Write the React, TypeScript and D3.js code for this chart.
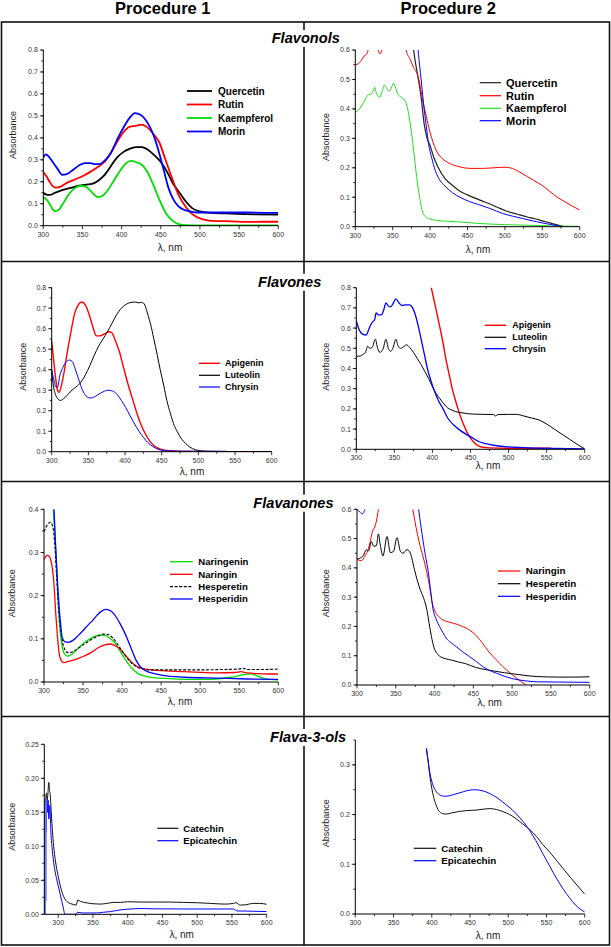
import * as d3 from "d3";

const FONT = "'Liberation Sans', Arial, Helvetica, sans-serif";

const procedures = ["Procedure 1", "Procedure 2"];
const groups = ["Flavonols", "Flavones", "Flavanones", "Flava-3-ols"];

const xTicks = [300, 350, 400, 450, 500, 550, 600];
const yTicks08 = [0, 0.1, 0.2, 0.3, 0.4, 0.5, 0.6, 0.7, 0.8];
const yTicks06 = [0, 0.1, 0.2, 0.3, 0.4, 0.5, 0.6];
const yTicks04 = [0, 0.1, 0.2, 0.3, 0.4];
const yTicks025 = [0, 0.05, 0.1, 0.15, 0.2, 0.25];
const yTicks03 = [0, 0.1, 0.2, 0.3];

type Pt = [number, number];

// Flavonols, procedure 1
const p1Quercetin: Pt[] = [[300,0.15],[304,0.142],[308,0.14],[315,0.15],[325,0.163],[335,0.172],[345,0.182],[355,0.187],[362,0.19],[370,0.205],[378,0.23],[386,0.27],[394,0.31],[402,0.335],[410,0.35],[418,0.358],[426,0.358],[434,0.345],[442,0.32],[450,0.29],[458,0.245],[466,0.19],[474,0.15],[482,0.11],[490,0.08],[500,0.065],[515,0.058],[540,0.055],[570,0.052],[600,0.05]];
const p1Rutin: Pt[] = [[300,0.245],[304,0.225],[308,0.2],[312,0.18],[316,0.173],[322,0.178],[330,0.195],[340,0.21],[350,0.225],[360,0.245],[370,0.268],[378,0.29],[386,0.33],[394,0.38],[402,0.425],[410,0.45],[418,0.455],[425,0.46],[432,0.45],[440,0.42],[448,0.38],[456,0.3],[464,0.22],[472,0.145],[480,0.095],[488,0.06],[496,0.04],[505,0.028],[520,0.021],[540,0.02],[560,0.017],[580,0.018],[600,0.018]];
const p1Kaempferol: Pt[] = [[300,0.13],[304,0.12],[308,0.1],[312,0.075],[315,0.066],[319,0.07],[325,0.1],[332,0.14],[340,0.17],[347,0.182],[354,0.178],[360,0.16],[366,0.138],[370,0.13],[375,0.135],[382,0.16],[390,0.205],[398,0.25],[405,0.283],[412,0.295],[418,0.29],[425,0.28],[432,0.25],[440,0.19],[448,0.12],[456,0.06],[464,0.025],[472,0.008],[482,0.002],[500,0.001],[600,0.001]];
const p1Morin: Pt[] = [[300,0.31],[303,0.325],[307,0.315],[312,0.29],[318,0.26],[324,0.232],[330,0.235],[338,0.255],[346,0.275],[353,0.285],[360,0.285],[366,0.28],[372,0.28],[378,0.295],[386,0.33],[394,0.39],[402,0.445],[410,0.49],[417,0.513],[424,0.505],[430,0.485],[436,0.45],[442,0.4],[448,0.33],[454,0.25],[460,0.17],[466,0.12],[472,0.09],[478,0.075],[486,0.066],[495,0.06],[520,0.06],[560,0.06],[600,0.058]];

// Flavonols, procedure 2
const p2Quercetin: Pt[] = [[374,0.72],[378,0.6],[383,0.52],[388,0.44],[392,0.35],[396,0.3],[400,0.275],[405,0.235],[410,0.205],[420,0.163],[430,0.14],[440,0.12],[450,0.108],[460,0.097],[470,0.087],[480,0.077],[490,0.066],[500,0.055],[510,0.047],[520,0.04],[530,0.033],[540,0.027],[550,0.02],[560,0.013],[570,0.006],[578,0.001]];
const p2Rutin: Pt[] = [[300,0.55],[304,0.553],[308,0.565],[312,0.58],[315,0.585],[318,0.61],[322,0.68],[326,0.66],[329,0.62],[330.5,0.6],[333,0.587],[335.5,0.6],[337,0.62],[341,0.68],[350,0.72],[360,0.7],[366,0.63],[368,0.6],[373,0.57],[378,0.54],[384,0.51],[390,0.43],[395,0.374],[400,0.32],[408,0.26],[416,0.232],[426,0.215],[440,0.203],[453,0.198],[470,0.198],[485,0.2],[500,0.202],[510,0.198],[520,0.185],[530,0.17],[540,0.155],[550,0.14],[560,0.12],[570,0.1],[580,0.085],[590,0.07],[600,0.057]];
const p2Kaempferol: Pt[] = [[300,0.39],[304,0.395],[308,0.41],[312,0.425],[316,0.445],[320,0.45],[323,0.455],[326,0.473],[328,0.455],[330,0.445],[333,0.44],[336,0.46],[339,0.481],[342,0.47],[345,0.46],[348,0.47],[351,0.487],[354,0.47],[357,0.45],[361,0.44],[366,0.43],[370,0.4],[374,0.34],[378,0.26],[382,0.17],[386,0.1],[390,0.05],[395,0.032],[400,0.026],[410,0.021],[420,0.019],[440,0.016],[460,0.012],[480,0.009],[500,0.007],[530,0.005],[560,0.003],[600,0.001]];
const p2Morin: Pt[] = [[380,0.75],[384,0.6],[388,0.5],[392,0.4],[395,0.34],[398,0.28],[402,0.235],[407,0.19],[413,0.158],[420,0.138],[430,0.115],[440,0.1],[453,0.085],[465,0.075],[480,0.062],[497,0.045],[510,0.036],[525,0.027],[542,0.017],[560,0.008],[575,0.001]];

// Flavones, procedure 1
const p3Apigenin: Pt[] = [[300,0.54],[302,0.47],[305,0.37],[308,0.3],[310,0.29],[313,0.32],[317,0.39],[321,0.48],[326,0.58],[331,0.67],[336,0.715],[341,0.73],[346,0.715],[351,0.67],[356,0.61],[361,0.565],[366,0.565],[372,0.575],[378,0.585],[382,0.58],[387,0.54],[393,0.48],[398,0.41],[404,0.33],[410,0.26],[416,0.19],[422,0.13],[428,0.085],[434,0.05],[440,0.028],[448,0.013],[456,0.006],[470,0.003],[500,0.001],[600,0]];
const p3Luteolin: Pt[] = [[300,0.4],[302,0.33],[305,0.28],[308,0.26],[312,0.25],[316,0.258],[321,0.275],[326,0.295],[333,0.315],[340,0.34],[346,0.375],[352,0.42],[358,0.47],[364,0.515],[370,0.55],[376,0.585],[382,0.625],[388,0.665],[395,0.7],[402,0.72],[408,0.728],[414,0.73],[419,0.726],[423,0.729],[427,0.715],[431,0.67],[435,0.62],[439,0.555],[444,0.47],[448,0.4],[453,0.32],[457,0.25],[462,0.185],[466,0.138],[471,0.1],[475,0.073],[480,0.05],[485,0.032],[492,0.015],[500,0.006],[510,0.002],[530,0.001],[600,0]];
const p3Chrysin: Pt[] = [[300,0.4],[303,0.35],[306,0.315],[308,0.315],[311,0.37],[315,0.41],[319,0.435],[324,0.447],[328,0.44],[332,0.405],[337,0.35],[342,0.3],[347,0.272],[352,0.262],[357,0.265],[363,0.278],[370,0.292],[377,0.3],[383,0.296],[389,0.28],[395,0.25],[401,0.215],[407,0.175],[413,0.135],[419,0.1],[425,0.07],[431,0.045],[438,0.025],[445,0.012],[455,0.005],[470,0.003],[500,0.002],[539,0.002]];

// Flavones, procedure 2
const p4Apigenin: Pt[] = [[396,0.85],[398.5,0.8],[402,0.74],[406,0.67],[410,0.6],[414,0.525],[418,0.44],[422,0.37],[426,0.3],[430,0.245],[434,0.195],[438,0.15],[442,0.113],[446,0.08],[450,0.055],[455,0.033],[460,0.018],[466,0.01],[475,0.007],[500,0.005],[530,0.005],[556,0.005]];
const p4Luteolin: Pt[] = [[300,0.46],[305,0.462],[309,0.47],[312,0.48],[315,0.51],[318,0.5],[321,0.505],[325,0.545],[328,0.5],[331,0.48],[335,0.495],[339,0.545],[342,0.5],[345,0.485],[348,0.5],[352,0.545],[355,0.51],[358,0.5],[362,0.508],[366,0.517],[370,0.505],[375,0.48],[380,0.45],[385,0.42],[390,0.385],[395,0.35],[400,0.31],[405,0.275],[410,0.25],[415,0.225],[420,0.205],[425,0.195],[430,0.187],[440,0.18],[450,0.175],[465,0.173],[480,0.172],[483,0.165],[486,0.172],[500,0.173],[510,0.173],[520,0.165],[530,0.155],[540,0.145],[550,0.125],[560,0.1],[570,0.075],[580,0.05],[590,0.025],[600,0.002]];
const p4Chrysin: Pt[] = [[300,0.635],[304,0.59],[308,0.57],[313,0.566],[317,0.6],[321,0.63],[324,0.64],[326,0.675],[329,0.665],[333,0.665],[336,0.69],[339,0.725],[342,0.71],[345,0.705],[348,0.72],[352,0.745],[356,0.725],[360,0.712],[365,0.715],[370,0.715],[374,0.7],[378,0.66],[382,0.6],[386,0.53],[390,0.46],[394,0.39],[398,0.34],[402,0.295],[408,0.24],[414,0.2],[420,0.155],[428,0.12],[436,0.095],[444,0.075],[452,0.058],[460,0.04],[470,0.028],[480,0.02],[495,0.013],[520,0.008],[560,0.004],[600,0.002]];

// Flavanones, procedure 1
const p5Naringenin: Pt[] = [[312,0.4],[314,0.34],[316,0.27],[318,0.19],[320,0.13],[323,0.085],[326,0.066],[330,0.06],[334,0.062],[340,0.072],[346,0.082],[352,0.092],[359,0.1],[366,0.106],[372,0.109],[378,0.108],[384,0.102],[390,0.092],[396,0.076],[402,0.058],[408,0.042],[414,0.029],[420,0.02],[428,0.014],[440,0.01],[460,0.008],[500,0.006],[520,0.007],[540,0.011],[555,0.017],[565,0.019],[572,0.015],[580,0.009],[590,0.006],[600,0.005]];
const p5Naringin: Pt[] = [[300,0.284],[302,0.29],[304.5,0.294],[307,0.29],[309,0.28],[311,0.26],[313,0.22],[315,0.16],[317,0.11],[319.5,0.065],[322,0.05],[325,0.045],[330,0.047],[340,0.052],[350,0.059],[360,0.068],[370,0.08],[378,0.086],[385,0.088],[392,0.083],[398,0.075],[405,0.06],[412,0.046],[420,0.035],[430,0.03],[445,0.027],[480,0.024],[520,0.021],[545,0.022],[552,0.024],[560,0.021],[580,0.019],[600,0.0185]];
const p5Hesperetin: Pt[] = [[300,0.348],[303,0.36],[306,0.368],[308,0.37],[310.5,0.364],[312.5,0.345],[314,0.313],[316,0.25],[318,0.19],[320.5,0.136],[323,0.1],[326,0.078],[331,0.068],[337,0.07],[344,0.078],[350,0.086],[357,0.094],[363,0.101],[370,0.107],[376,0.111],[382,0.11],[388,0.102],[394,0.088],[400,0.072],[406,0.057],[412,0.044],[418,0.036],[425,0.031],[435,0.028],[470,0.028],[500,0.028],[530,0.029],[550,0.03],[555,0.032],[560,0.029],[580,0.029],[600,0.03]];
const p5Hesperidin: Pt[] = [[312.8,0.4],[314.5,0.33],[316.2,0.267],[318,0.21],[319.6,0.167],[321.5,0.13],[323,0.105],[327,0.093],[331,0.092],[337.6,0.097],[344,0.108],[350.4,0.12],[357,0.133],[363,0.144],[368,0.155],[373,0.163],[379,0.168],[384,0.166],[389,0.159],[394,0.146],[398,0.133],[402,0.119],[406,0.103],[410,0.085],[414,0.067],[418,0.05],[423,0.036],[430,0.026],[440,0.02],[450,0.016],[480,0.011],[520,0.009],[560,0.007],[600,0.006]];

// Flavanones, procedure 2
const p6Naringin: Pt[] = [[300,0.433],[303,0.425],[306,0.425],[310,0.44],[314,0.46],[317,0.49],[320,0.525],[323,0.54],[325,0.56],[327,0.59],[330,0.65],[340,0.75],[360,0.75],[368,0.66],[372,0.6],[376,0.54],[380,0.49],[385,0.44],[390,0.385],[394,0.33],[397,0.28],[400,0.255],[405,0.235],[411,0.222],[420,0.214],[428,0.208],[436,0.2],[445,0.188],[454,0.168],[462,0.142],[470,0.113],[480,0.085],[488,0.063],[497,0.042],[505,0.025],[512,0.011],[518,0]];
const p6Hesperetin: Pt[] = [[300,0.43],[304,0.433],[308,0.442],[312,0.461],[315,0.458],[318.5,0.49],[321.5,0.474],[325,0.476],[327.5,0.516],[330,0.478],[333.5,0.441],[338.7,0.507],[343,0.452],[347,0.456],[351.6,0.503],[355.9,0.457],[359.3,0.45],[364.5,0.462],[368.8,0.45],[374,0.395],[378,0.355],[382,0.322],[386,0.296],[390,0.258],[393,0.21],[396,0.165],[399,0.13],[403,0.108],[408,0.096],[414,0.09],[422,0.085],[430,0.079],[440,0.073],[453,0.06],[465,0.053],[478,0.047],[490,0.042],[510,0.035],[531,0.029],[560,0.027],[580,0.027],[600,0.028]];
const p6Hesperidin: Pt[] = [[300,0.6],[302,0.595],[304,0.59],[306.9,0.584],[309,0.592],[311,0.61],[315,0.7],[340,0.8],[375,0.7],[379.5,0.6],[382,0.55],[385,0.495],[388,0.445],[391.5,0.393],[395,0.32],[398,0.26],[402,0.225],[406.6,0.199],[411,0.178],[415,0.16],[421,0.145],[428,0.131],[436,0.114],[445,0.097],[454,0.08],[462,0.063],[470,0.051],[480,0.04],[492,0.028],[505,0.019],[518,0.014],[531,0.011],[560,0.01],[600,0.009]];

// Flava-3-ols, procedure 1
const p7Catechin: Pt[] = [[281,0.135],[282,0.165],[283,0.178],[284,0.168],[285,0.175],[286.5,0.194],[287.5,0.182],[288.5,0.176],[290,0.15],[292,0.118],[294,0.095],[297,0.072],[300,0.056],[303,0.042],[306,0.031],[310,0.022],[315,0.017],[320,0.015],[326,0.0135],[328,0.021],[332,0.019],[340,0.017],[350,0.0155],[360,0.015],[370,0.016],[380,0.0175],[390,0.0175],[400,0.0185],[420,0.018],[440,0.018],[460,0.018],[480,0.0175],[500,0.017],[520,0.016],[540,0.015],[552,0.016],[556,0.017],[562,0.0135],[570,0.014],[580,0.016],[590,0.016],[600,0.0147]];
const p7EpicatechinNoise: Pt[] = [[280,0],[280.4,0.17],[280.8,0.01],[281.2,0.165],[281.6,0],[282,0.16],[282.4,0.02],[282.8,0.17]];
const p7Epicatechin: Pt[] = [[283,0.12],[283.5,0.17],[284.5,0.15],[285.5,0.168],[286.5,0.14],[288,0.16],[289.5,0.12],[291,0.1],[293,0.08],[295,0.066],[297.5,0.053],[300,0.042],[302.5,0.031],[305,0.02],[307,0.011],[309.7,0],[326,0],[327.5,0.003],[335,0.002],[345,0.002],[355,0.002],[365,0.003],[375,0.004],[389,0.0064],[400,0.0075],[420,0.0085],[440,0.008],[460,0.008],[480,0.0078],[520,0.0078],[552,0.0078],[557,0.005],[580,0.0045],[600,0.004]];

// Flava-3-ols, procedure 2
const p8Catechin: Pt[] = [[393,0.333],[395,0.31],[398,0.272],[401,0.245],[405,0.222],[409,0.208],[414,0.202],[419,0.201],[425,0.203],[435,0.206],[445,0.208],[458,0.209],[468,0.211],[476,0.212],[485,0.21],[493,0.206],[502,0.2],[510,0.192],[519,0.181],[528,0.17],[537,0.156],[545,0.14],[554,0.125],[563,0.108],[572,0.091],[581,0.074],[590,0.058],[600,0.04]];
const p8Epicatechin: Pt[] = [[393,0.333],[395,0.31],[398,0.28],[401,0.262],[405,0.248],[410,0.24],[415,0.237],[420,0.237],[428,0.24],[437,0.244],[446,0.248],[455,0.25],[463,0.249],[472,0.245],[481,0.238],[489,0.23],[497,0.22],[505,0.21],[513,0.197],[520,0.185],[528,0.168],[536,0.148],[545,0.122],[554,0.097],[563,0.072],[572,0.05],[580,0.033],[588,0.018],[595,0.009],[600,0.004]];

const RED = "#ff0000";
const BLUE = "#0000ff";
const GREEN = "#00dd00";
const BLACK = "#000000";

type Series = { name: string; data: Pt[]; color: string; width: number; dash?: string; noLegend?: boolean; linear?: boolean };
type PanelCfg = {
  left: number; right: number; bottom: number; top: number;
  xDomain: [number, number]; yDomain: [number, number];
  yTicks: number[]; yFormat: string; yMinor: number;
  series: Series[];
  legend: { x1: number; x2: number; tx: number; ys: number[]; fs: number };
  abs: [number, number]; lam: [number, number];
};

const panels: PanelCfg[] = [
  {
    left: 43.3, right: 278.3, bottom: 225.7, top: 50, xDomain: [300, 600], yDomain: [0, 0.8],
    yTicks: yTicks08, yFormat: ".1f", yMinor: 0.05,
    series: [
      { name: "Quercetin", data: p1Quercetin, color: BLACK, width: 1.8 },
      { name: "Rutin", data: p1Rutin, color: RED, width: 1.8 },
      { name: "Kaempferol", data: p1Kaempferol, color: GREEN, width: 1.8 },
      { name: "Morin", data: p1Morin, color: BLUE, width: 1.8 },
    ],
    legend: { x1: 187, x2: 212, tx: 218, ys: [91, 104.5, 118, 131.5], fs: 10 },
    abs: [12.5, 135], lam: [170, 247],
  },
  {
    left: 355.3, right: 579.7, bottom: 226.7, top: 50, xDomain: [300, 600], yDomain: [0, 0.6],
    yTicks: yTicks06, yFormat: ".1f", yMinor: 0.05,
    series: [
      { name: "Quercetin", data: p2Quercetin, color: "#222", width: 1.2 },
      { name: "Rutin", data: p2Rutin, color: RED, width: 1 },
      { name: "Kaempferol", data: p2Kaempferol, color: "#22dd22", width: 1 },
      { name: "Morin", data: p2Morin, color: BLUE, width: 1 },
    ],
    legend: { x1: 479.7, x2: 501, tx: 506, ys: [82.7, 95.7, 108.3, 120.7], fs: 11 },
    abs: [325.7, 137], lam: [478, 249],
  },
  {
    left: 51.7, right: 271.7, bottom: 451.7, top: 287.7, xDomain: [300, 600], yDomain: [0, 0.8],
    yTicks: yTicks08, yFormat: ".1f", yMinor: 0.05,
    series: [
      { name: "Apigenin", data: p3Apigenin, color: RED, width: 1.4 },
      { name: "Luteolin", data: p3Luteolin, color: BLACK, width: 1 },
      { name: "Chrysin", data: p3Chrysin, color: BLUE, width: 1 },
    ],
    legend: { x1: 199, x2: 220, tx: 225, ys: [363.3, 375.3, 387], fs: 9 },
    abs: [22.7, 366.7], lam: [192, 471],
  },
  {
    left: 356.3, right: 584.7, bottom: 449.3, top: 287.7, xDomain: [300, 600], yDomain: [0, 0.8],
    yTicks: yTicks08, yFormat: ".1f", yMinor: 0.05,
    series: [
      { name: "Apigenin", data: p4Apigenin, color: RED, width: 1.4 },
      { name: "Luteolin", data: p4Luteolin, color: BLACK, width: 1 },
      { name: "Chrysin", data: p4Chrysin, color: BLUE, width: 1.3 },
    ],
    legend: { x1: 484.7, x2: 506.3, tx: 512.3, ys: [325.3, 337.3, 348.7], fs: 9 },
    abs: [326.3, 366.7], lam: [488, 465],
  },
  {
    left: 44, right: 278.3, bottom: 682, top: 509.3, xDomain: [300, 600], yDomain: [0, 0.4],
    yTicks: yTicks04, yFormat: ".1f", yMinor: 0.05,
    series: [
      { name: "Naringenin", data: p5Naringenin, color: GREEN, width: 1.3 },
      { name: "Naringin", data: p5Naringin, color: RED, width: 1.3 },
      { name: "Hesperetin", data: p5Hesperetin, color: BLACK, width: 1.1, dash: "3,1.6" },
      { name: "Hesperidin", data: p5Hesperidin, color: BLUE, width: 1.3 },
    ],
    legend: { x1: 170, x2: 192.7, tx: 198.3, ys: [561.7, 574.3, 586.7, 599], fs: 9.6 },
    abs: [12.3, 593.3], lam: [180, 701.7],
  },
  {
    left: 357, right: 589.7, bottom: 685, top: 509.3, xDomain: [300, 600], yDomain: [0, 0.6],
    yTicks: yTicks06, yFormat: ".1f", yMinor: 0.05,
    series: [
      { name: "Naringin", data: p6Naringin, color: RED, width: 1 },
      { name: "Hesperetin", data: p6Hesperetin, color: BLACK, width: 1 },
      { name: "Hesperidin", data: p6Hesperidin, color: BLUE, width: 1 },
    ],
    legend: { x1: 498, x2: 520.3, tx: 525.7, ys: [571, 583.7, 596.3], fs: 9.8 },
    abs: [326.3, 593.3], lam: [489.7, 702.3],
  },
  {
    left: 44.3, right: 266.7, bottom: 914.3, top: 744.3, xDomain: [280, 600], yDomain: [0, 0.25],
    yTicks: yTicks025, yFormat: ".2f", yMinor: 0.025,
    series: [
      { name: "Catechin", data: p7Catechin, color: "#111", width: 1 },
      { name: "Epicatechin", data: p7Epicatechin, color: BLUE, width: 1 },
      { name: "noise", data: p7EpicatechinNoise, color: "#6a7cff", width: 1, noLegend: true, linear: true },
    ],
    legend: { x1: 157.3, x2: 178.3, tx: 183.3, ys: [828.3, 840.7], fs: 9.6 },
    abs: [11.7, 826.7], lam: [181.7, 934.3],
  },
  {
    left: 355.3, right: 584.7, bottom: 914, top: 740, xDomain: [300, 600], yDomain: [0, 0.35],
    yTicks: yTicks03, yFormat: ".1f", yMinor: 0.05,
    series: [
      { name: "Catechin", data: p8Catechin, color: "#111", width: 1 },
      { name: "Epicatechin", data: p8Epicatechin, color: BLUE, width: 1 },
    ],
    legend: { x1: 413.7, x2: 436.3, tx: 441.3, ys: [848.3, 860.7], fs: 9.8 },
    abs: [326.3, 823.3], lam: [488, 935],
  },
];

// title placement per row: [left x, baseline y]
const titlePos: [number, number][] = [[271.7, 43], [258, 286.7], [253.3, 507.7], [270, 742]];
const titleWidth = [68, 63, 81.4, 76.3];
const rowLines = [261.5, 481.5, 716.5];

function Panel({ cfg, idx }: { cfg: PanelCfg; idx: number }) {
  const x = d3.scaleLinear().domain(cfg.xDomain).range([cfg.left, cfg.right]);
  const y = d3.scaleLinear().domain(cfg.yDomain).range([cfg.bottom, cfg.top]);
  const smooth = d3.line<Pt>().x((d) => x(d[0])).y((d) => y(d[1])).curve(d3.curveMonotoneX);
  const straight = d3.line<Pt>().x((d) => x(d[0])).y((d) => y(d[1]));
  const fmt = d3.format(cfg.yFormat);
  const xMinor = d3.range(300, cfg.xDomain[1] + 1, 25);
  const yMinor = d3.range(0, cfg.yDomain[1] + 1e-9, cfg.yMinor);
  const clipId = `clip-${idx}`;
  const legendSeries = cfg.series.filter((s) => !s.noLegend);

  return (
    <g>
      <defs>
        <clipPath id={clipId}>
          <rect x={cfg.left} y={cfg.top} width={cfg.right - cfg.left} height={cfg.bottom - cfg.top} />
        </clipPath>
      </defs>
      <g clipPath={`url(#${clipId})`}>
        {cfg.series.map((s) => (
          <path
            key={s.name}
            d={(s.linear ? straight : smooth)(s.data) || ""}
            fill="none"
            stroke={s.color}
            strokeWidth={s.width}
            strokeDasharray={s.dash}
            strokeLinejoin="round"
          />
        ))}
      </g>
      {/* axes */}
      <line x1={cfg.left} x2={cfg.right} y1={cfg.bottom} y2={cfg.bottom} stroke="#000" strokeWidth={1} />
      <line x1={cfg.left} x2={cfg.left} y1={cfg.bottom} y2={cfg.top} stroke="#000" strokeWidth={1} />
      {xMinor.map((v) => (
        <line key={"xm" + v} x1={x(v)} x2={x(v)} y1={cfg.bottom} y2={cfg.bottom + (v % 50 === 0 ? 3.5 : 2)} stroke="#000" strokeWidth={0.8} />
      ))}
      {yMinor.map((v) => (
        <line key={"ym" + v} x1={cfg.left} x2={cfg.left - 2} y1={y(v)} y2={y(v)} stroke="#000" strokeWidth={0.8} />
      ))}
      {cfg.yTicks.map((v) => (
        <g key={"yt" + v}>
          <line x1={cfg.left} x2={cfg.left - 3.5} y1={y(v)} y2={y(v)} stroke="#000" strokeWidth={0.8} />
          <text x={cfg.left - 5.5} y={y(v)} dy="0.35em" textAnchor="end" fontSize={7} fill="#333" fontFamily={FONT}>
            {fmt(v)}
          </text>
        </g>
      ))}
      {xTicks.map((v) => (
        <text key={"xt" + v} x={x(v)} y={cfg.bottom + 8.6} dy="0.35em" textAnchor="middle" fontSize={7} fill="#333" fontFamily={FONT}>
          {v}
        </text>
      ))}
      <text
        transform={`translate(${cfg.abs[0]},${cfg.abs[1]}) rotate(-90)`}
        textAnchor="middle"
        dy="0.35em"
        fontSize={9}
        fill="#222"
        fontFamily={FONT}
      >
        Absorbance
      </text>
      <text x={cfg.lam[0]} y={cfg.lam[1]} dy="0.35em" textAnchor="middle" fontSize={10} fill="#222" fontFamily={FONT}>
        λ, nm
      </text>
      {/* legend */}
      {legendSeries.map((s, i) => (
        <g key={"lg" + s.name}>
          <line
            x1={cfg.legend.x1}
            x2={cfg.legend.x2}
            y1={cfg.legend.ys[i]}
            y2={cfg.legend.ys[i]}
            stroke={s.color}
            strokeWidth={Math.max(s.width, 1.2)}
            strokeDasharray={s.dash}
          />
          <text
            x={cfg.legend.tx}
            y={cfg.legend.ys[i]}
            dy="0.35em"
            fontSize={cfg.legend.fs}
            fontWeight="bold"
            fill="#000"
            fontFamily={FONT}
          >
            {s.name}
          </text>
        </g>
      ))}
    </g>
  );
}

export default function App() {
  return (
    <svg
      width={611}
      height={947}
      viewBox="0 0 611 947"
      style={{ position: "absolute", left: 0, top: 0, background: "#fff" }}
    >
      <rect x={0} y={0} width={611} height={947} fill="#fff" />
      <text x={162.8} y={13.5} textAnchor="middle" fontSize={16.5} fontWeight="bold" fontFamily={FONT}>
        {procedures[0]}
      </text>
      <text x={448.3} y={13.5} textAnchor="middle" fontSize={16.5} fontWeight="bold" fontFamily={FONT}>
        {procedures[1]}
      </text>
      {/* frame */}
      <rect x={1.5} y={22} width={608} height={923} fill="none" stroke="#111" strokeWidth={1.6} />
      {rowLines.map((yy) => (
        <line key={yy} x1={1.5} x2={609.5} y1={yy} y2={yy} stroke="#111" strokeWidth={1.6} />
      ))}
      <line x1={304} x2={304} y1={22} y2={945} stroke="#111" strokeWidth={1.6} />
      {groups.map((g, i) => (
        <g key={g}>
          <rect
            x={titlePos[i][0] - 3}
            y={titlePos[i][1] - 13}
            width={titleWidth[i] + 6}
            height={17}
            fill="#fff"
          />
          <text
            x={titlePos[i][0]}
            y={titlePos[i][1]}
            fontSize={14.6}
            fontWeight="bold"
            fontStyle="italic"
            fontFamily={FONT}
          >
            {g}
          </text>
        </g>
      ))}
      {panels.map((p, i) => (
        <Panel key={i} cfg={p} idx={i} />
      ))}
    </svg>
  );
}
